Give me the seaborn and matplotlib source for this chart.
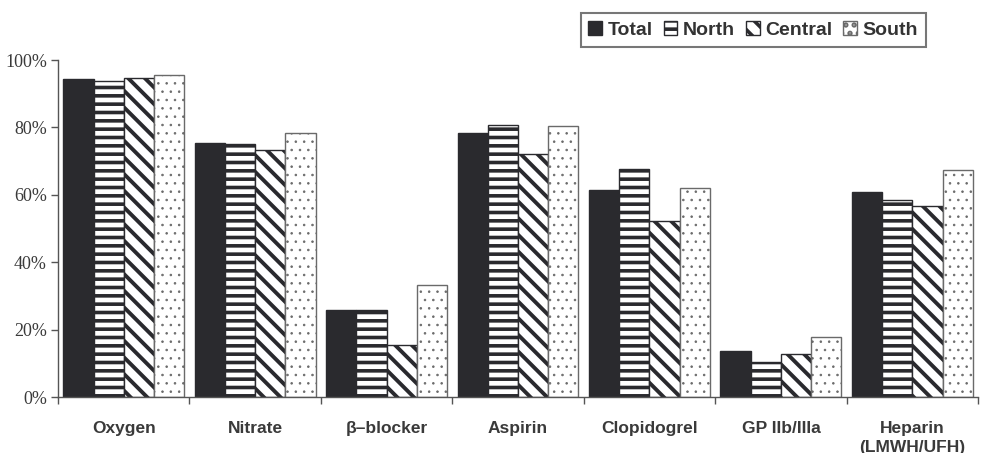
import numpy as np
import pandas as pd
import matplotlib
matplotlib.use("Agg")
import matplotlib.pyplot as plt
from matplotlib.ticker import FixedLocator, PercentFormatter
import seaborn as sns

sns.set_style("ticks")
plt.rcParams["hatch.linewidth"] = 2.6

drugs = ["Oxygen", "Nitrate", "β–blocker", "Aspirin", "Clopidogrel",
         "GP IIb/IIIa", "Heparin\n(LMWH/UFH)"]
regions = ["Total", "North", "Central", "South"]

total = [94.4, 75.4, 25.8, 78.3, 61.4, 13.6, 60.8]
north = [93.8, 75.1, 25.8, 80.7, 67.7, 10.5, 58.5]
central = [94.7, 73.3, 15.4, 72.1, 52.2, 12.8, 56.7]
south = [95.5, 78.3, 33.2, 80.4, 62.0, 17.9, 67.4]

df = pd.DataFrame({"drug": drugs * 4,
                   "region": np.repeat(regions, len(drugs)),
                   "pct": total + north + central + south})

dark = "#2a2a2e"
palette = {"Total": dark, "North": "white", "Central": "white", "South": "white"}
hatches = {"Total": "", "North": "--", "Central": "\\\\", "South": ".."}
edges = {"Total": dark, "North": dark, "Central": dark, "South": "#6a6a6a"}
hatch_lw = {"Total": 1.0, "North": 2.6, "Central": 2.8, "South": 0.6}

fig = plt.figure(figsize=(9.87, 4.53), dpi=100)
ax = fig.add_axes([0.0588, 0.1236, 0.9321, 0.7439])

sns.barplot(data=df, x="drug", y="pct", hue="region", hue_order=regions,
            palette=palette, width=0.92, gap=0, edgecolor=dark, linewidth=1.0,
            legend=False, ax=ax, saturation=1)

for cont, reg in zip(ax.containers, regions):
    for p in cont.patches:
        p.set_hatch(hatches[reg])
        p.set_edgecolor(edges[reg])
        if hasattr(p, "set_hatch_linewidth"):
            p.set_hatch_linewidth(hatch_lw[reg])
    cont.set_label(reg)

ax.set_ylim(0, 100)
ax.set_xlim(-0.5, len(drugs) - 0.5)
ax.yaxis.set_major_locator(FixedLocator([0, 20, 40, 60, 80, 100]))
ax.yaxis.set_major_formatter(PercentFormatter(decimals=0))
ax.set_xlabel("")
ax.set_ylabel("")

ax.xaxis.set_minor_locator(FixedLocator(np.arange(-0.5, len(drugs), 1.0)))
ax.tick_params(axis="x", which="major", length=0, pad=17)
ax.tick_params(axis="x", which="minor", length=5, width=1, color="#555555")
ax.tick_params(axis="y", length=5, width=1, color="#555555", pad=3)

for lab in ax.get_xticklabels():
    lab.set_fontfamily("Liberation Sans")
    lab.set_fontweight("bold")
    lab.set_fontsize(12.5)
    lab.set_color("#3a3a3a")
    lab.set_linespacing(1.35)
    lab.set_verticalalignment("top")
for lab in ax.get_yticklabels():
    lab.set_fontfamily("Liberation Serif")
    lab.set_fontsize(13)
    lab.set_color("#3a3a3a")

sns.despine(ax=ax)
for s in ["left", "bottom"]:
    ax.spines[s].set_color("#555555")
    ax.spines[s].set_linewidth(1.0)

leg = fig.legend(handles=ax.containers, labels=regions, loc="upper right",
                 bbox_to_anchor=(0.948, 0.992), ncol=4, frameon=True,
                 fancybox=False, handlelength=0.7, handleheight=0.7,
                 handletextpad=0.3, columnspacing=0.55, borderpad=0.4,
                 prop={"family": "Liberation Sans", "weight": "bold", "size": 14})
leg.get_frame().set_edgecolor("#555555")
leg.get_frame().set_linewidth(1.5)
for t in leg.get_texts():
    t.set_color("#333333")

fig.savefig("out.png", dpi=100)
